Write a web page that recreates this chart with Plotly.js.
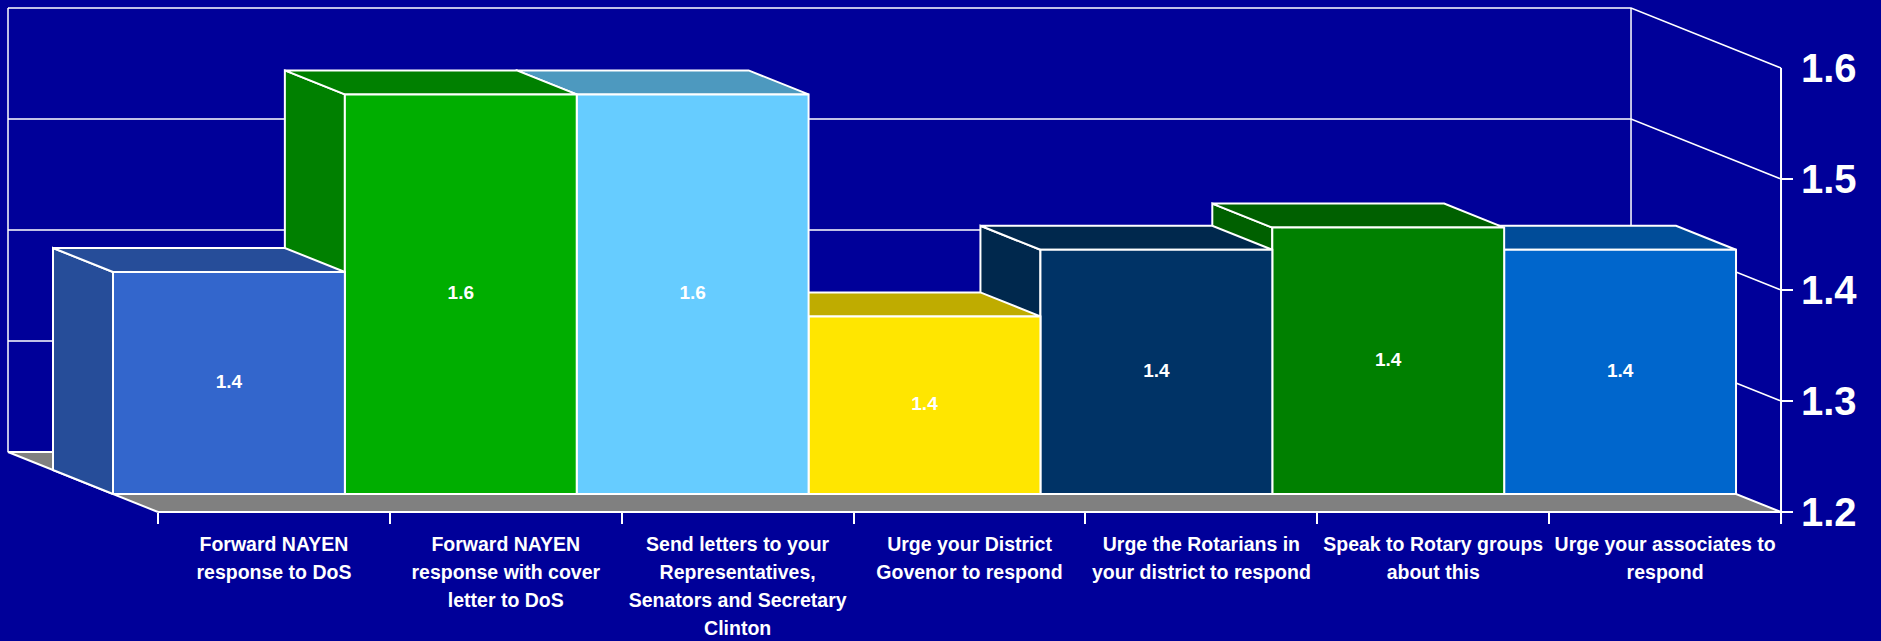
<!DOCTYPE html>
<html>
<head>
<meta charset="utf-8">
<script src="https://cdn.plot.ly/plotly-3.0.1.min.js"></script>
<style>html,body{margin:0;padding:0;background:#000099;}#chart{width:1881px;height:641px;}</style>
</head>
<body>
<div id="chart"></div>
<script>
// ---- data ----
const categories = [
  "Forward NAYEN<br>response to DoS",
  "Forward NAYEN<br>response with cover<br>letter to DoS",
  "Send letters to your<br>Representatives,<br>Senators and Secretary<br>Clinton",
  "Urge your District<br>Govenor to respond",
  "Urge the Rotarians in<br>your district to respond",
  "Speak to Rotary groups<br>about this",
  "Urge your associates to<br>respond"
];
const values = [1.40, 1.56, 1.56, 1.36, 1.42, 1.44, 1.42];
const frontColors = ["#3366CC", "#00AE00", "#66CCFF", "#FFE600", "#003366", "#008000", "#0066CC"];
const shadeColors = ["#264D99", "#008000", "#4D99BF", "#BFAC00", "#00284D", "#006000", "#004C99"];
const tickValues = [1.2, 1.3, 1.4, 1.5, 1.6];
const tickLabels = ["1.2", "1.3", "1.4", "1.5", "1.6"];

(function () {
// ---- projection (oblique 3D look) ----
const W = 1881, H = 641;
const catPx = 231.86;          // px per category on the front plane
const valPx = 1110;            // px per value unit
const x0px = 158, floorPx = 512, axisPx = 1781;
const DX = -150 / catPx;       // full depth offset in category units
const DY = 60 / valPx;         // full depth offset in value units
const vBase = tickValues[0];
const vTop = tickValues[tickValues.length - 1];
const n = categories.length;
const dFront = 0.3, dBack = 0.7;

const traces = [];
const white = "#FFFFFF";

// back wall + right wall lines
const wx = [], wy = [];
tickValues.forEach(t => {
  if (t === vBase) return;
  wx.push(DX, n + DX, n, null);
  wy.push(t + DY, t + DY, t, null);
});
wx.push(DX, DX, null, n + DX, n + DX, null);
wy.push(vBase + DY, vTop + DY, null, vBase + DY, vTop + DY, null);
traces.push({type: "scatter", mode: "lines", x: wx, y: wy, line: {color: white, width: 1.5}, hoverinfo: "skip", connectgaps: false});

// floor
traces.push({type: "scatter", mode: "lines", fill: "toself", fillcolor: "#808080",
  x: [0, n, n + DX, DX, 0], y: [vBase, vBase, vBase + DY, vBase + DY, vBase],
  line: {color: white, width: 2}, hoverinfo: "skip"});

// front value axis line with tick marks (no tick at the top value)
const ax = [n, n, null], ay = [vBase - 11 / valPx, vTop, null];
tickValues.forEach(t => {
  if (t === vTop) return;
  ax.push(n, n + 12 / catPx, null);
  ay.push(t, t, null);
});
traces.push({type: "scatter", mode: "lines", x: ax, y: ay, connectgaps: false,
  line: {color: white, width: 2}, hoverinfo: "skip"});

// bars drawn right to left
for (let i = n - 1; i >= 0; i--) {
  const v = values[i];
  const xa = i + dFront * DX, xb = i + 1 + dFront * DX;
  const dd = (dBack - dFront);
  const yb = vBase + dFront * DY, yt = v + dFront * DY;
  traces.push({type: "scatter", mode: "lines", fill: "toself", fillcolor: shadeColors[i],
    x: [xa, xa, xa + dd * DX, xa + dd * DX, xa],
    y: [yb, yt, yt + dd * DY, yb + dd * DY, yb],
    line: {color: white, width: 2}, hoverinfo: "skip"});
  traces.push({type: "scatter", mode: "lines", fill: "toself", fillcolor: shadeColors[i],
    x: [xa, xb, xb + dd * DX, xa + dd * DX, xa],
    y: [yt, yt, yt + dd * DY, yt + dd * DY, yt],
    line: {color: white, width: 2}, hoverinfo: "skip"});
  traces.push({type: "scatter", mode: "lines", fill: "toself", fillcolor: frontColors[i],
    x: [xa, xb, xb, xa, xa],
    y: [yb, yb, yt, yt, yb],
    line: {color: white, width: 2}, hoverinfo: "skip"});
}

// value labels
traces.push({type: "scatter", mode: "text",
  x: values.map((v, i) => i + 0.5 + dFront * DX),
  y: values.map(v => (vBase + v) / 2 + dFront * DY),
  text: values.map(v => v.toFixed(1)),
  textposition: "middle center",
  textfont: {family: "Liberation Sans", size: 19, color: white, weight: "bold"},
  hoverinfo: "skip"});

// category labels: one overlaying x axis per text line (for Excel-like line spacing)
const lines = categories.map(c => c.split("<br>"));
const maxLines = Math.max(...lines.map(l => l.length));
const xRange = [-x0px / catPx, (W - x0px) / catPx];
const lineGap = 28;

const layout = {
  width: W, height: H,
  margin: {l: 0, r: 0, t: 0, b: 0, pad: 0},
  paper_bgcolor: "#000099", plot_bgcolor: "#000099",
  showlegend: false,
  yaxis: {
    range: [vBase - (H - floorPx) / valPx, vBase + floorPx / valPx],
    anchor: "free", position: axisPx / W, side: "right",
    tickmode: "array", tickvals: tickValues, ticktext: tickLabels,
    ticks: "", showgrid: false, zeroline: false, showline: false,
    tickfont: {family: "Liberation Sans", size: 40, color: white, weight: "bold"},
    ticklabelstandoff: 19,
    fixedrange: true
  }
};

for (let k = 0; k < maxLines; k++) {
  const name = k === 0 ? "xaxis" : "xaxis" + (k + 1);
  const axisDef = {
    range: xRange,
    anchor: "free", position: 1 - floorPx / H,
    tickmode: "array",
    tickvals: categories.map((c, i) => i + 0.5),
    ticktext: lines.map(l => l[k] || ""),
    ticks: "", showgrid: false, zeroline: false, showline: false,
    tickfont: {family: "Liberation Sans", size: 19.5, color: white, weight: "bold"},
    ticklabelstandoff: 18 + lineGap * k,
    fixedrange: true
  };
  if (k === 0) {
    axisDef.minor = {tickmode: "array", tickvals: categories.map((c, i) => i).concat([n]),
      ticks: "outside", ticklen: 11, tickwidth: 2, tickcolor: white, showgrid: false};
  } else {
    axisDef.overlaying = "x";
    axisDef.matches = "x";
    traces.push({type: "scatter", mode: "none", x: [0.5], y: [vBase], xaxis: "x" + (k + 1), yaxis: "y", hoverinfo: "skip"});
  }
  layout[name] = axisDef;
}

Plotly.newPlot("chart", traces, layout, {staticPlot: true, displayModeBar: false});
})();
</script>
</body>
</html>
